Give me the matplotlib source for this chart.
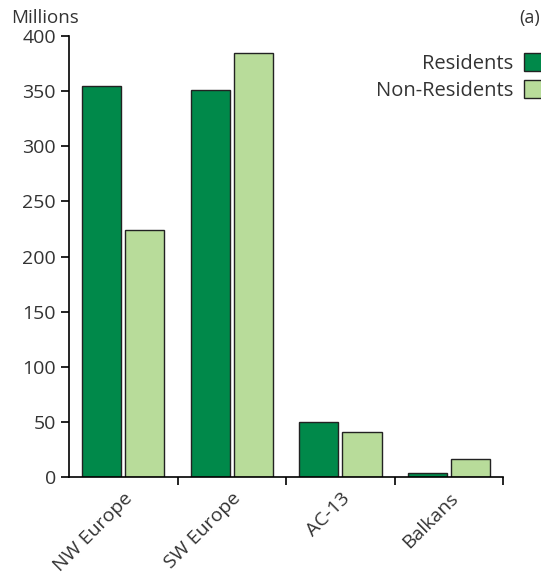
import matplotlib.pyplot as plt
import numpy as np
from matplotlib.patches import Patch

plt.rcParams['font.family'] = ['Open Sans', 'DejaVu Sans']

regions = ['NW Europe', 'SW Europe', 'AC-13', 'Balkans']
residents = [355, 351, 50, 4]
non_residents = [224, 385, 41, 16]

dark = '#00894a'
light = '#b8dc9a'

fig = plt.figure(figsize=(5.41, 5.78), dpi=100)
ax = fig.add_axes([0.1275, 0.1747, 0.8025, 0.763])

x = np.arange(len(regions))
w = 0.36
ax.bar(x - 0.2, residents, w, color=dark, edgecolor='#222222', linewidth=1)
ax.bar(x + 0.2, non_residents, w, color=light, edgecolor='#222222', linewidth=1)

ax.set_xlim(-0.5, len(regions) - 0.5)
ax.set_ylim(0, 400)
ax.set_yticks(range(0, 401, 50))

# ticks at group boundaries, labels at group centres
ax.set_xticks(x + 0.5)
ax.set_xticklabels([])
ax.set_xticks(x, minor=True)
ax.set_xticklabels(regions, minor=True, rotation=45, ha='right',
                   rotation_mode='anchor', fontsize=14, color='#333333')
ax.tick_params(axis='x', which='minor', length=0, pad=9)
ax.tick_params(axis='x', which='major', length=6, width=1.2, direction='out')
ax.tick_params(axis='y', length=6, width=1.2, labelsize=14, labelcolor='#333333')

for s in ['top', 'right']:
    ax.spines[s].set_visible(False)
ax.spines['left'].set_linewidth(1.2)
ax.spines['bottom'].set_linewidth(1.2)

fig.text(0.02, 0.968, 'Millions', fontsize=13.5, color='#333333', va='center')
fig.text(0.999, 0.968, '(a)', fontsize=13, color='#333333', va='center', ha='right')

handles = [Patch(facecolor=dark, edgecolor='#222222', label='Residents'),
           Patch(facecolor=light, edgecolor='#222222', label='Non-Residents')]
fig.legend(handles=handles, loc='upper right', bbox_to_anchor=(1.04, 0.94),
           frameon=False, markerfirst=False, handlelength=1.0, handleheight=1.0,
           handletextpad=0.55, labelspacing=0.3, fontsize=14.5, labelcolor='#333333')

fig.savefig('out.png', dpi=100)
